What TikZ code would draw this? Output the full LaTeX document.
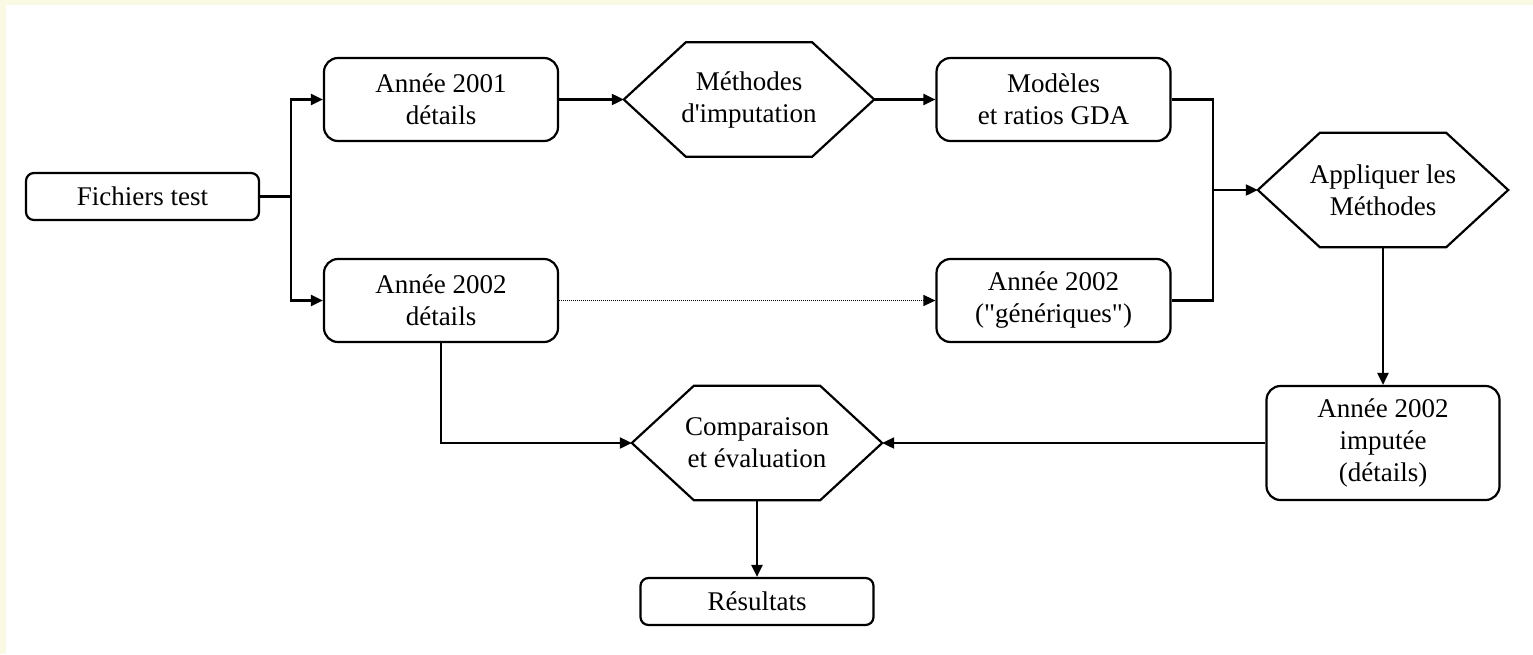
\documentclass[tikz,border=0pt]{standalone}
\usepackage{fontspec}
\setmainfont{Liberation Serif}[Ligatures=TeXOff]
\usetikzlibrary{arrows.meta}
\definecolor{frameyellow}{RGB}{250,250,228}
\begin{document}
\begin{tikzpicture}[x=1pt,y=-1pt,
  every node/.style={font=\fontsize{27}{32}\selectfont, align=center, inner sep=0pt},
  rbox/.style={draw, line width=2.2pt, rounded corners=14pt, minimum width=234pt, minimum height=83pt},
  sbox/.style={draw, line width=2.2pt, rounded corners=8pt, minimum width=233pt, minimum height=47pt},
  tbox/.style={draw, line width=2.2pt, rounded corners=14pt, minimum width=233pt, minimum height=114pt},
  hexnode/.style={minimum width=250pt, minimum height=114pt},
  hexline/.style={line width=2.2pt, line join=miter},
  conn/.style={line width=2.2pt},
  arr/.style={conn, -{Triangle[length=12pt,width=11pt]}},
  dotarr/.style={line width=1.5pt, dash pattern=on 1pt off 1pt, -{Triangle[length=12pt,width=11pt]}},
]
\useasboundingbox (0,0) rectangle (1533,654);
\fill[white] (0,0) rectangle (1533,654);
\fill[frameyellow] (0,0) rectangle (6,654);
\fill[frameyellow] (0,0) rectangle (1533,5);

% nodes
\node[sbox] (fich) at (142.5,196.5) {Fichiers test};
\node[rbox] (a2001) at (441,99.5) {Année 2001\\détails};
\node[rbox] (a2002) at (441,300.5) {Année 2002\\détails};
\node[hexnode] (meth) at (749,99.5) {Méthodes\\d'imputation};
\node[rbox] (mod) at (1053.5,99.5) {Modèles\\et ratios GDA};
\node[rbox] (gen) at (1053.5,300.5) {Année 2002\\("génériques")};
\node[hexnode] (appl) at (1383,190) {Appliquer les\\Méthodes};
\node[tbox] (imp) at (1383,443) {Année 2002\\imputée\\(détails)};
\node[hexnode] (comp) at (757,443) {Comparaison\\et évaluation};
\node[sbox] (res) at (757,601.5) {Résultats};

% hexagon outlines
\foreach \h in {meth,appl,comp}{
  \draw[hexline] (\h.west) -- ([xshift=62pt]\h.north west) -- ([xshift=-62pt]\h.north east)
    -- (\h.east) -- ([xshift=-62pt]\h.south east) -- ([xshift=62pt]\h.south west) -- cycle;
}

% connectors
\coordinate (fj) at (291,196.5);
\draw[conn] (fich.east) -- (fj);
\draw[arr] (fj) |- (a2001.west);
\draw[arr] (fj) |- (a2002.west);
\draw[arr] (a2001.east) -- (meth.west);
\draw[arr] (meth.east) -- (mod.west);
\draw[dotarr] (a2002.east) -- (gen.west);
\coordinate (mj) at (1213,190);
\draw[conn] (mod.east) -| (mj);
\draw[conn] (gen.east) -| (mj);
\draw[arr] (mj) -- (appl.west);
\draw[arr] (appl.south) -- (imp.north);
\draw[arr] (imp.west) -- (comp.east);
\draw[arr] (a2002.south) |- (comp.west);
\draw[arr] (comp.south) -- (res.north);
\end{tikzpicture}
\end{document}
